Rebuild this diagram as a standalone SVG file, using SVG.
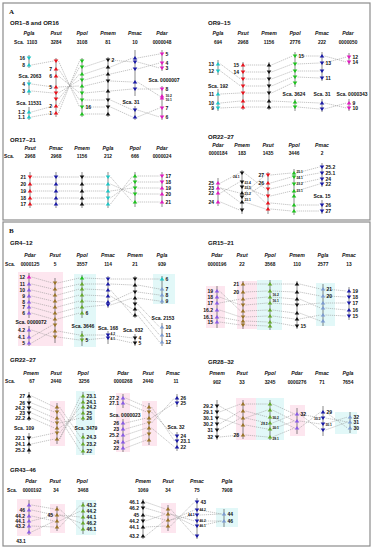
<svg xmlns="http://www.w3.org/2000/svg" width="374" height="550" viewBox="0 0 374 550">
<style>
text{font-family:"Liberation Sans",Arial,sans-serif;font-weight:bold;fill:#111}
.ti{font-size:6px}
.pl{font-family:"Liberation Serif","Times New Roman",serif;font-size:7px}
.sp{font-size:5.2px;font-style:italic;text-anchor:middle}
.sc{font-size:4.8px;text-anchor:middle}
.l{font-size:5px;text-anchor:end}
.r{font-size:5px}
.m{font-size:5px;text-anchor:middle}
.tl{font-size:3.3px;text-anchor:end}
.tr{font-size:3.3px}
.ax{stroke:#3a3a3a;stroke-width:.6}
#connectors path{fill:none;stroke:#8a8a8a;stroke-width:.5;stroke-dasharray:1.3 .8}
.cy{fill:#1ec6c6}.rd{fill:#e8141e}.gr{fill:#1fc21f}.bk{fill:#111}.bl{fill:#1a1aa6}.mg{fill:#e01cc0}
.vi{fill:#8a5ce6}.br{fill:#9a7428}.og{fill:#66a82c}.sl{fill:#7d9bd0}
.pk{fill:#fde6ef}.cs{fill:#e2f8f8}
.fr{fill:none;stroke:#8c8c8c;stroke-width:1.2}
</style>
<defs>
<path id="u" d="M-2.3 1.5H2.3L0-1.9Z"/>
<path id="d" d="M-2.3-1.5H2.3L0 1.9Z"/>
</defs>
<rect width="374" height="550" fill="#fff"/>
<rect class="fr" x="3" y="3" width="367" height="217"/>
<rect class="fr" x="3" y="222" width="367" height="324"/>

<!-- shading panel B -->
<g id="shading">
<rect class="pk" x="18" y="272" width="45" height="74"/>
<rect class="cs" x="74" y="274" width="22" height="73"/>
<rect class="cs" x="153" y="274" width="22" height="30"/>
<rect class="pk" x="206" y="286" width="19" height="42"/>
<rect class="pk" x="237" y="281" width="20" height="48"/>
<rect class="cs" x="257" y="280" width="25" height="50"/>
<rect class="cs" x="316" y="283" width="19" height="43"/>
<rect class="pk" x="50" y="401" width="15" height="45"/>
<rect class="cs" x="76" y="391" width="19" height="64"/>
<rect class="pk" x="116" y="393" width="14" height="59"/>
<rect class="pk" x="142" y="401" width="15" height="45"/>
<rect class="pk" x="236" y="398" width="20" height="42"/>
<rect class="cs" x="256" y="398" width="28" height="42"/>
<rect class="pk" x="290" y="405" width="15" height="31"/>
<rect class="cs" x="335" y="412" width="22" height="22"/>
<rect class="pk" x="17" y="499" width="24" height="37"/>
<rect class="pk" x="50" y="504" width="15" height="29"/>
<rect class="cs" x="76" y="500" width="20" height="35"/>
<rect class="pk" x="161" y="503" width="15" height="30"/>
<rect class="cs" x="216" y="508" width="22" height="19"/>
</g>

<g id="connectors">
<path d="M31.5 65L53.5 61M31.5 84L53.5 87M31.5 91L53.5 93M31.5 112L53.5 106M31.5 117L53.5 113
M58.5 61L79.5 107M58.5 69L79.5 100M58.5 76L79.5 93M58.5 87L79.5 86M58.5 93L79.5 80M58.5 99L79.5 74M58.5 106L79.5 67M58.5 113L79.5 61
M84.5 67L105.5 60M84.5 74L105.5 67M84.5 80L105.5 74M84.5 86L105.5 81M84.5 93L105.5 91M84.5 100L105.5 100M84.5 107L105.5 107M84.5 114L105.5 114
M110.5 60L132.5 62M110.5 67L132.5 58M110.5 74L132.5 69M110.5 81L132.5 82M110.5 91L132.5 89M110.5 100L132.5 110M110.5 107L132.5 117
M137.5 58L159.5 54M137.5 62L159.5 68M137.5 69L159.5 63M137.5 82L159.5 96M137.5 89L159.5 89M137.5 110L159.5 117M137.5 117L159.5 108"/>
<path d="M220.5 64L240.5 79M220.5 71L240.5 86M220.5 94L240.5 93M220.5 103L240.5 101M220.5 108L240.5 107
M245.5 65H266.5M245.5 72H266.5M245.5 79H266.5M245.5 86H266.5M245.5 93H266.5M245.5 101H266.5M245.5 107H266.5
M271.5 65L292.5 56M271.5 72L292.5 64M271.5 79L292.5 71M271.5 86L292.5 77M271.5 93L292.5 83M271.5 101L292.5 102M271.5 107L292.5 107
M297.5 56L319.5 56M297.5 64L319.5 63M297.5 71L319.5 71M297.5 77L319.5 78M297.5 102L319.5 103M297.5 107L319.5 109
M324.5 56L346.5 62M324.5 63L346.5 57M324.5 103L346.5 108M324.5 109L346.5 103"/>
<path d="M32.5 177H53.5M32.5 184H53.5M32.5 191H53.5M32.5 198H53.5M32.5 204H53.5
M58.5 177H79.5M58.5 184H79.5M58.5 191H79.5M58.5 198H79.5M58.5 204H79.5
M84.5 177H105.5M84.5 184H105.5M84.5 191H105.5M84.5 198H105.5M84.5 204H105.5
M110.5 177L132.5 202M110.5 184L132.5 194M110.5 191L132.5 188M110.5 198L132.5 182M110.5 204L132.5 176
M137.5 176H159.5M137.5 182H159.5M137.5 188H159.5M137.5 194H159.5M137.5 202H159.5"/>
<path d="M220.5 183L239.5 173M220.5 188L239.5 193M220.5 188L239.5 202M220.5 193L239.5 182M220.5 202L239.5 210
M244.5 173L265.5 189M244.5 182L265.5 203M244.5 187L265.5 196M244.5 193L265.5 175M244.5 197L265.5 183M244.5 202L265.5 209
M270.5 175L291.5 173M270.5 183L291.5 177M270.5 189L291.5 184M270.5 196L291.5 191M270.5 203L291.5 205M270.5 209L291.5 211
M296.5 173L319.5 167M296.5 177L319.5 173M296.5 184L319.5 179M296.5 191L319.5 184M296.5 205L319.5 205M296.5 211L319.5 211"/>
<path d="M31.5 277L52.5 283M31.5 284L52.5 289M31.5 290L52.5 295M31.5 296L52.5 301M31.5 302L52.5 307M31.5 307L52.5 313M31.5 313L52.5 319M31.5 330L52.5 337M31.5 337L52.5 325M31.5 343L52.5 331
M57.5 283L79.5 278M57.5 289L79.5 284M57.5 295L79.5 289M57.5 301L79.5 295M57.5 307L79.5 301M57.5 313L79.5 307M57.5 319L79.5 313M57.5 331L79.5 335M57.5 337L79.5 340
M84.5 278L105.5 279M84.5 284L105.5 284M84.5 289L105.5 290M84.5 295L105.5 296M84.5 301L105.5 302M84.5 307L105.5 305M84.5 335L105.5 335M84.5 340L105.5 338
M110.5 279L132.5 279M110.5 284L132.5 285M110.5 290L132.5 315M110.5 296L132.5 309M110.5 302L132.5 292M110.5 305L132.5 298M110.5 335L132.5 338M110.5 338L132.5 343
M137.5 279L159.5 279M137.5 285L159.5 289M137.5 292L159.5 295M137.5 298L159.5 301M137.5 304L159.5 327M137.5 309L159.5 335M137.5 315L159.5 342"/>
<path d="M219.5 291L240.5 311M219.5 297L240.5 305M219.5 303L240.5 299M219.5 310L240.5 317M219.5 317L240.5 321M219.5 322L240.5 325
M245.5 284L267.5 284M245.5 292L267.5 291M245.5 299L267.5 297M245.5 305L267.5 303M245.5 311L267.5 310M245.5 317L267.5 316M245.5 321L267.5 322M245.5 325L267.5 326
M272.5 284L294.5 284M272.5 291L294.5 292M272.5 297L294.5 299M272.5 303L294.5 305M272.5 310L294.5 313M272.5 316L294.5 319M272.5 322L294.5 326
M299.5 284L320.5 289M299.5 292L320.5 296M299.5 299L320.5 308M299.5 305L320.5 303M299.5 313L320.5 321M299.5 319L320.5 315
M325.5 289L346.5 291M325.5 296L346.5 297M325.5 303L346.5 303M325.5 308L346.5 310M325.5 315L346.5 316"/>
<path d="M31.5 396L54.5 407M31.5 403L54.5 412M31.5 408L54.5 418M31.5 413L54.5 423M31.5 418L54.5 428M31.5 438L54.5 433M31.5 444L54.5 439
M59.5 407L80.5 437M59.5 412L80.5 444M59.5 418L80.5 451M59.5 423L80.5 418M59.5 428L80.5 413M59.5 433L80.5 407M59.5 439L80.5 402M59.5 439L80.5 396
M125.5 398L146.5 407M125.5 403L146.5 412M125.5 423L146.5 418M125.5 429L146.5 423M125.5 435L146.5 428M125.5 442L146.5 434M125.5 448L146.5 440
M151.5 407L174.5 441M151.5 412L174.5 436M151.5 418L174.5 403M151.5 423L174.5 398M151.5 428L174.5 447"/>
<path d="M219.5 406L240.5 418M219.5 412L240.5 404M219.5 418L240.5 425M219.5 424L240.5 411M219.5 430L240.5 418M219.5 437L240.5 435
M245.5 404L267.5 404M245.5 411L267.5 417M245.5 418L267.5 410M245.5 418L267.5 423M245.5 425L267.5 429M245.5 435L267.5 437
M272.5 404L294.5 414M272.5 410L294.5 421M272.5 417L294.5 428M272.5 423L294.5 414M272.5 429L294.5 421M272.5 437L294.5 428
M299.5 414L320.5 418M299.5 414L320.5 430M299.5 421L320.5 424M299.5 428L320.5 412
M325.5 412L347.5 428M325.5 418L347.5 422M325.5 424L347.5 417M325.5 430L347.5 422"/>
<path d="M31.5 505L54.5 509M31.5 510L54.5 515M31.5 516L54.5 521M31.5 521L54.5 515M31.5 526L54.5 527M31.5 532L54.5 521
M59.5 509L80.5 529M59.5 515L80.5 523M59.5 521L80.5 511M59.5 527L80.5 505M59.5 515L80.5 517
M145.5 502L165.5 509M145.5 508L165.5 514M145.5 515L165.5 520M145.5 521L165.5 514M145.5 527L165.5 526M145.5 536L165.5 520
M170.5 509L194.5 536M170.5 514L194.5 526M170.5 520L194.5 510M170.5 526L194.5 502M170.5 514L194.5 521M170.5 520L194.5 515
M199.5 510L221.5 514M199.5 515L221.5 514M199.5 521L221.5 521M199.5 526L221.5 521"/>
</g>

<!-- ================= PANEL A ================= -->
<text class="pl" x="9" y="14">A</text>

<!-- OR1~8 -->
<g id="or1-8-head">
<text class="ti" x="10" y="25">OR1~8 and OR16</text>
<text class="sp" x="29" y="35">Pgla</text><text class="sp" x="56" y="35">Pxut</text><text class="sp" x="82" y="35">Ppol</text><text class="sp" x="108" y="35">Pmem</text><text class="sp" x="135" y="35">Pmac</text><text class="sp" x="162" y="35">Pdar</text>
<text class="sc" x="19" y="44">Sca.</text><text class="sc" x="32" y="44">1103</text><text class="sc" x="56" y="44">3284</text><text class="sc" x="82" y="44">3108</text><text class="sc" x="108" y="44">81</text><text class="sc" x="135" y="44">10</text><text class="sc" x="162" y="44">0000048</text>
</g>
<g id="or1-8-Pgla" class="cy">
<path class="ax" d="M29 55V68M29 80V95M29 107V120"/>
<use href="#d" x="29" y="58"/><use href="#u" x="29" y="65"/><use href="#d" x="29" y="84"/><use href="#u" x="29" y="91"/><use href="#u" x="29" y="112"/><use href="#u" x="29" y="117"/>
<text class="l" x="25" y="60">16</text><text class="l" x="25" y="67">8</text><text class="m" x="30" y="78">Sca. 2063</text><text class="l" x="25" y="86">4</text><text class="l" x="25" y="93">3</text><text class="m" x="29" y="104.5">Sca. 11531</text><text class="l" x="25" y="114">1.2</text><text class="l" x="25" y="119">1.1</text>
</g>
<g id="or1-8-Pxut" class="rd">
<path class="ax" d="M56 58V117"/>
<use href="#d" x="56" y="61"/><use href="#u" x="56" y="69"/><use href="#u" x="56" y="76"/><use href="#u" x="56" y="87"/><use href="#d" x="56" y="93"/><use href="#d" x="56" y="99"/><use href="#u" x="56" y="106"/><use href="#u" x="56" y="113"/>
<text class="l" x="52" y="71">7</text><text class="l" x="52" y="78">6</text><text class="l" x="52" y="89">5</text><text class="l" x="52" y="108">2</text><text class="l" x="52" y="115">1</text>
</g>
<g id="or1-8-Ppol" class="gr">
<path class="ax" d="M82 58V117"/>
<use href="#d" x="82" y="61"/><use href="#d" x="82" y="67"/><use href="#u" x="82" y="74"/><use href="#d" x="82" y="80"/><use href="#u" x="82" y="86"/><use href="#d" x="82" y="93"/><use href="#d" x="82" y="100"/><use href="#d" x="82" y="107"/><use href="#u" x="82" y="114"/>
<text class="r" x="85.5" y="109">16</text>
</g>
<g id="or1-8-Pmem" class="bk">
<path class="ax" d="M108 57V117"/>
<use href="#d" x="108" y="60"/><use href="#u" x="108" y="67"/><use href="#u" x="108" y="74"/><use href="#d" x="108" y="81"/><use href="#u" x="108" y="91"/><use href="#d" x="108" y="100"/><use href="#d" x="108" y="107"/><use href="#u" x="108" y="114"/>
<text class="r" x="111.5" y="62">2</text>
</g>
<g id="or1-8-Pmac" class="bl">
<path class="ax" d="M135 50V96M135 106V120"/>
<use href="#u" x="135" y="58"/><use href="#d" x="135" y="62"/><use href="#d" x="135" y="69"/><use href="#u" x="135" y="82"/><use href="#d" x="135" y="89"/><use href="#d" x="135" y="110"/><use href="#u" x="135" y="117"/>
<text class="m" x="131" y="103.5">Sca. 31</text>
</g>
<g id="or1-8-Pdar" class="mg">
<path class="ax" d="M162 50V71M162 86V120"/>
<use href="#d" x="162" y="54"/><use href="#d" x="162" y="63"/><use href="#d" x="162" y="68"/><use href="#d" x="162" y="89"/><use href="#u" x="162" y="96"/><use href="#u" x="162" y="98"/><use href="#d" x="162" y="108"/><use href="#d" x="162" y="117"/>
<text class="r" x="165.5" y="56">5</text><text class="r" x="165.5" y="65">4</text><text class="r" x="165.5" y="70">3</text><text class="m" x="164" y="82">Sca. 0000007</text><text class="r" x="165.5" y="91">8</text><text class="tr" x="165.5" y="97">10.2</text><text class="tr" x="165.5" y="100.5">10.1</text><text class="r" x="165.5" y="110">7</text><text class="r" x="165.5" y="119">6</text>
</g>

<!-- OR9~15 -->
<g id="or9-15-head">
<text class="ti" x="208" y="25">OR9~15</text>
<text class="sp" x="218" y="35">Pgla</text><text class="sp" x="243" y="35">Pxut</text><text class="sp" x="269" y="35">Pmem</text><text class="sp" x="295" y="35">Ppol</text><text class="sp" x="322" y="35">Pmac</text><text class="sp" x="348" y="35">Pdar</text>
<text class="sc" x="218" y="44">694</text><text class="sc" x="243" y="44">2968</text><text class="sc" x="269" y="44">1156</text><text class="sc" x="295" y="44">2776</text><text class="sc" x="322" y="44">222</text><text class="sc" x="348" y="44">0000050</text>
</g>
<g id="or9-15-Pgla" class="cy">
<path class="ax" d="M218 60V75M218 89V111"/>
<use href="#u" x="218" y="64"/><use href="#d" x="218" y="71"/><use href="#u" x="218" y="94"/><use href="#u" x="218" y="103"/><use href="#d" x="218" y="108"/>
<text class="l" x="214" y="66">13</text><text class="l" x="214" y="73">12</text><text class="m" x="218" y="87.5">Sca. 192</text><text class="l" x="214" y="96">11</text><text class="l" x="214" y="105">10</text><text class="l" x="214" y="110">9</text>
</g>
<g id="or9-15-Pxut" class="rd">
<path class="ax" d="M243 62V110"/>
<use href="#u" x="243" y="65"/><use href="#d" x="243" y="72"/><use href="#d" x="243" y="79"/><use href="#d" x="243" y="86"/><use href="#d" x="243" y="93"/><use href="#u" x="243" y="101"/><use href="#u" x="243" y="107"/>
<text class="l" x="239" y="67">15</text><text class="l" x="239" y="74">14</text>
</g>
<g id="or9-15-Pmem" class="bk">
<path class="ax" d="M269 62V110"/>
<use href="#u" x="269" y="65"/><use href="#d" x="269" y="72"/><use href="#d" x="269" y="79"/><use href="#d" x="269" y="86"/><use href="#d" x="269" y="93"/><use href="#u" x="269" y="101"/><use href="#u" x="269" y="107"/>
</g>
<g id="or9-15-Ppol" class="gr">
<path class="ax" d="M295 52V87M295 99V111"/>
<use href="#d" x="295" y="56"/><use href="#d" x="295" y="64"/><use href="#d" x="295" y="71"/><use href="#d" x="295" y="77"/><use href="#d" x="295" y="83"/><use href="#u" x="295" y="102"/><use href="#d" x="295" y="107"/>
<text class="r" x="298.5" y="58">15</text><text class="m" x="294" y="96">Sca. 3624</text>
</g>
<g id="or9-15-Pmac" class="bl">
<path class="ax" d="M322 52V81M322 99V112"/>
<use href="#u" x="322" y="56"/><use href="#d" x="322" y="63"/><use href="#d" x="322" y="71"/><use href="#d" x="322" y="78"/><use href="#u" x="322" y="103"/><use href="#d" x="322" y="109"/>
<text class="r" x="325.5" y="65">13</text><text class="r" x="325.5" y="80">11</text><text class="m" x="322" y="96">Sca. 31</text>
</g>
<g id="or9-15-Pdar" class="mg">
<path class="ax" d="M349 53V65M349 99V111"/>
<use href="#d" x="349" y="57"/><use href="#d" x="349" y="62"/><use href="#u" x="349" y="103"/><use href="#d" x="349" y="108"/>
<text class="r" x="352.5" y="59">12</text><text class="r" x="352.5" y="64">14</text><text class="m" x="352" y="96">Sca. 0000343</text><text class="r" x="352.5" y="105">9</text><text class="r" x="352.5" y="110">10</text>
</g>

<!-- OR17~21 -->
<g id="or17-21-head">
<text class="ti" x="10" y="142">OR17~21</text>
<text class="sp" x="30" y="150">Pxut</text><text class="sp" x="56" y="150">Pmac</text><text class="sp" x="82" y="150">Pmem</text><text class="sp" x="108" y="150">Pgla</text><text class="sp" x="135" y="150">Ppol</text><text class="sp" x="162" y="150">Pdar</text>
<text class="sc" x="9" y="157.5">Sca.</text><text class="sc" x="30" y="157.5">2968</text><text class="sc" x="56" y="157.5">2968</text><text class="sc" x="82" y="157.5">1156</text><text class="sc" x="108" y="157.5">212</text><text class="sc" x="135" y="157.5">666</text><text class="sc" x="162" y="157.5">0000024</text>
</g>
<g id="or17-21-Pxut" class="rd">
<path class="ax" d="M30 172V208"/>
<use href="#d" x="30" y="177"/><use href="#u" x="30" y="184"/><use href="#u" x="30" y="191"/><use href="#u" x="30" y="198"/><use href="#u" x="30" y="204"/>
<text class="l" x="26" y="179">21</text><text class="l" x="26" y="186">20</text><text class="l" x="26" y="193">19</text><text class="l" x="26" y="200">18</text><text class="l" x="26" y="206">17</text>
</g>
<g id="or17-21-Pmac" class="bl">
<path class="ax" d="M56 172V208"/>
<use href="#d" x="56" y="177"/><use href="#u" x="56" y="184"/><use href="#u" x="56" y="191"/><use href="#u" x="56" y="198"/><use href="#u" x="56" y="204"/>
</g>
<g id="or17-21-Pmem" class="bk">
<path class="ax" d="M82 172V208"/>
<use href="#d" x="82" y="177"/><use href="#u" x="82" y="184"/><use href="#u" x="82" y="191"/><use href="#u" x="82" y="198"/><use href="#u" x="82" y="204"/>
</g>
<g id="or17-21-Pgla" class="cy">
<path class="ax" d="M108 172V208"/>
<use href="#d" x="108" y="177"/><use href="#u" x="108" y="184"/><use href="#u" x="108" y="191"/><use href="#d" x="108" y="198"/><use href="#u" x="108" y="204"/>
</g>
<g id="or17-21-Ppol" class="gr">
<path class="ax" d="M135 172V207"/>
<use href="#u" x="135" y="176"/><use href="#d" x="135" y="182"/><use href="#d" x="135" y="188"/><use href="#d" x="135" y="194"/><use href="#u" x="135" y="202"/>
</g>
<g id="or17-21-Pdar" class="mg">
<path class="ax" d="M162 172V207"/>
<use href="#d" x="162" y="176"/><use href="#d" x="162" y="182"/><use href="#u" x="162" y="188"/><use href="#u" x="162" y="194"/><use href="#u" x="162" y="202"/>
<text class="r" x="165.5" y="178">17</text><text class="r" x="165.5" y="184">18</text><text class="r" x="165.5" y="190">19</text><text class="r" x="165.5" y="196">20</text><text class="r" x="165.5" y="204">21</text>
</g>

<!-- OR22~27 -->
<g id="or22-27-head">
<text class="ti" x="208" y="139">OR22~27</text>
<text class="sp" x="218" y="147">Pdar</text><text class="sp" x="242" y="147">Pmem</text><text class="sp" x="268" y="147">Pxut</text><text class="sp" x="294" y="147">Ppol</text><text class="sp" x="322" y="147">Pmac</text>
<text class="sc" x="218" y="155">0000184</text><text class="sc" x="242" y="155">183</text><text class="sc" x="268" y="155">1435</text><text class="sc" x="294" y="155">3446</text><text class="sc" x="322" y="155">2</text>
</g>
<g id="or22-27-Pdar" class="mg">
<path class="ax" d="M218 178V206"/>
<use href="#u" x="218" y="183"/><use href="#u" x="218" y="188"/><use href="#u" x="218" y="193"/><use href="#u" x="218" y="202"/>
<text class="l" x="214" y="185">25</text><text class="l" x="214" y="190">23</text><text class="l" x="214" y="195">22</text><text class="l" x="214" y="204">24</text>
</g>
<g id="or22-27-Pmem" class="bk">
<path class="ax" d="M242 170V214"/>
<use href="#d" x="242" y="173"/><use href="#d" x="242" y="182"/><use href="#d" x="242" y="187"/><use href="#u" x="242" y="193"/><use href="#d" x="242" y="197"/><use href="#u" x="242" y="202"/><use href="#d" x="242" y="210"/>
<text class="tl" x="239.5" y="178">24.1</text><text class="tr" x="244.5" y="184">23.4</text><text class="tr" x="244.5" y="189">23.5</text><text class="tr" x="244.5" y="195">23.2</text><text class="tr" x="244.5" y="201">23.1</text>
</g>
<g id="or22-27-Pxut" class="rd">
<path class="ax" d="M268 172V214"/>
<use href="#d" x="268" y="175"/><use href="#u" x="268" y="183"/><use href="#d" x="268" y="189"/><use href="#d" x="268" y="196"/><use href="#u" x="268" y="203"/><use href="#u" x="268" y="209"/>
<text class="l" x="264" y="177">27</text><text class="l" x="264" y="185">26</text>
</g>
<g id="or22-27-Ppol" class="gr">
<path class="ax" d="M294 169V215"/>
<use href="#u" x="294" y="173"/><use href="#d" x="294" y="177"/><use href="#d" x="294" y="184"/><use href="#u" x="294" y="191"/><use href="#u" x="294" y="196"/><use href="#u" x="294" y="205"/><use href="#u" x="294" y="211"/>
<text class="tr" x="296.5" y="172.5">25.1</text><text class="tr" x="296.5" y="178.5">24.1</text><text class="tr" x="296.5" y="185">23.2</text><text class="tr" x="296.5" y="192">23.1</text>
</g>
<g id="or22-27-Pmac" class="bl">
<path class="ax" d="M322 163V187M322 200V214"/>
<use href="#d" x="322" y="167"/><use href="#d" x="322" y="173"/><use href="#d" x="322" y="179"/><use href="#d" x="322" y="184"/><use href="#d" x="322" y="205"/><use href="#d" x="322" y="211"/>
<text class="r" x="325.5" y="169">25.2</text><text class="r" x="325.5" y="175">25.1</text><text class="r" x="325.5" y="181">24</text><text class="r" x="325.5" y="186">22</text><text class="m" x="322" y="198">Sca. 15</text><text class="r" x="325.5" y="207">26</text><text class="r" x="325.5" y="213">27</text>
</g>

<!-- ================= PANEL B ================= -->
<text class="pl" x="9" y="233">B</text>

<!-- GR4~12 -->
<g id="gr4-12-head">
<text class="ti" x="10" y="245">GR4~12</text>
<text class="sp" x="30" y="257">Pdar</text><text class="sp" x="55" y="257">Pxut</text><text class="sp" x="82" y="257">Ppol</text><text class="sp" x="108" y="257">Pmac</text><text class="sp" x="135" y="257">Pmem</text><text class="sp" x="162" y="257">Pgla</text>
<text class="sc" x="10" y="266">Sca.</text><text class="sc" x="30" y="266">0000125</text><text class="sc" x="55" y="266">5</text><text class="sc" x="82" y="266">3557</text><text class="sc" x="108" y="266">114</text><text class="sc" x="135" y="266">21</text><text class="sc" x="162" y="266">939</text>
</g>
<g id="gr4-12-Pdar" class="vi">
<path class="ax" d="M29 273V318M29 326V346"/>
<use href="#u" x="29" y="277" class="mg"/><use href="#u" x="29" y="284"/><use href="#u" x="29" y="290"/><use href="#u" x="29" y="296"/><use href="#u" x="29" y="302"/><use href="#u" x="29" y="307"/><use href="#u" x="29" y="313"/><use href="#u" x="29" y="330"/><use href="#u" x="29" y="337"/><use href="#u" x="29" y="343"/>
<text class="l" x="25" y="279">12</text><text class="l" x="25" y="286">11</text><text class="l" x="25" y="292">10</text><text class="l" x="25" y="298">9</text><text class="l" x="25" y="304">8</text><text class="l" x="25" y="309">7</text><text class="l" x="25" y="315">6</text><text class="m" x="31" y="323.5">Sca. 0000072</text><text class="l" x="25" y="332">4.2</text><text class="l" x="25" y="339">4.1</text><text class="l" x="25" y="345">5</text>
</g>
<g id="gr4-12-Pxut" class="br">
<path class="ax" d="M55 278V343"/>
<use href="#d" x="55" y="283"/><use href="#u" x="55" y="289"/><use href="#u" x="55" y="295"/><use href="#u" x="55" y="301"/><use href="#u" x="55" y="307"/><use href="#u" x="55" y="313"/><use href="#u" x="55" y="319"/><use href="#d" x="55" y="325"/><use href="#u" x="55" y="331"/><use href="#d" x="55" y="337"/>
</g>
<g id="gr4-12-Ppol" class="og">
<path class="ax" d="M82 275V318M82 331V346"/>
<use href="#u" x="82" y="278" class="gr"/><use href="#u" x="82" y="284"/><use href="#u" x="82" y="289"/><use href="#u" x="82" y="295"/><use href="#u" x="82" y="301"/><use href="#u" x="82" y="307"/><use href="#u" x="82" y="313"/><use href="#u" x="82" y="335"/><use href="#d" x="82" y="340"/>
<text class="r" x="85.5" y="315">6</text><text class="m" x="83" y="328">Sca. 3646</text><text class="r" x="85.5" y="342">5</text>
</g>
<g id="gr4-12-Pmac" class="bl">
<path class="ax" d="M108 276V308M108 331V344"/>
<use href="#d" x="108" y="279"/><use href="#u" x="108" y="284"/><use href="#u" x="108" y="290"/><use href="#u" x="108" y="296"/><use href="#u" x="108" y="302"/><use href="#d" x="108" y="305"/><use href="#d" x="108" y="335"/><use href="#d" x="108" y="338"/>
<text class="m" x="108" y="330">Sca. 168</text><text class="tr" x="110.5" y="334.5">4.2</text><text class="tr" x="110.5" y="340">4.1</text>
</g>
<g id="gr4-12-Pmem" class="bk">
<path class="ax" d="M135 276V318M135 334V346"/>
<use href="#d" x="135" y="279"/><use href="#u" x="135" y="285"/><use href="#d" x="135" y="292"/><use href="#u" x="135" y="298"/><use href="#d" x="135" y="304"/><use href="#u" x="135" y="309"/><use href="#u" x="135" y="315"/><use href="#d" x="135" y="338"/><use href="#d" x="135" y="343"/>
<text class="m" x="133" y="331.5">Sca. 632</text><text class="r" x="138.5" y="340">4</text><text class="r" x="138.5" y="345">5</text>
</g>
<g id="gr4-12-Pgla" class="sl">
<path class="ax" d="M162 276V304M162 323V346"/>
<use href="#u" x="162" y="279" class="cy"/><use href="#u" x="162" y="289"/><use href="#u" x="162" y="295"/><use href="#u" x="162" y="301"/><use href="#u" x="162" y="327"/><use href="#u" x="162" y="335"/><use href="#u" x="162" y="342"/>
<text class="r" x="165.5" y="281">6</text><text class="r" x="165.5" y="291">7</text><text class="r" x="165.5" y="297">8</text><text class="r" x="165.5" y="303">9</text><text class="m" x="163" y="320">Sca. 2153</text><text class="r" x="165.5" y="329">10</text><text class="r" x="165.5" y="337">11</text><text class="r" x="165.5" y="344">12</text>
</g>

<!-- GR15~21 -->
<g id="gr15-21-head">
<text class="ti" x="208" y="245">GR15~21</text>
<text class="sp" x="217" y="257">Pdar</text><text class="sp" x="242" y="257">Pxut</text><text class="sp" x="270" y="257">Ppol</text><text class="sp" x="297" y="257">Pmem</text><text class="sp" x="323" y="257">Pgla</text><text class="sp" x="349" y="257">Pmac</text>
<text class="sc" x="217" y="266">0000196</text><text class="sc" x="242" y="266">22</text><text class="sc" x="270" y="266">3568</text><text class="sc" x="297" y="266">110</text><text class="sc" x="323" y="266">2577</text><text class="sc" x="349" y="266">13</text>
</g>
<g id="gr15-21-Pdar" class="vi">
<path class="ax" d="M217 286V328"/>
<use href="#u" x="217" y="291"/><use href="#u" x="217" y="297"/><use href="#u" x="217" y="303"/><use href="#u" x="217" y="310"/><use href="#u" x="217" y="317"/><use href="#u" x="217" y="322"/>
<text class="l" x="213" y="293">19</text><text class="l" x="213" y="299">18</text><text class="l" x="213" y="305">17</text><text class="l" x="213" y="312">16.2</text><text class="l" x="213" y="319">16.1</text><text class="l" x="213" y="324">15</text>
</g>
<g id="gr15-21-Pxut" class="br">
<path class="ax" d="M243 281V329"/>
<use href="#u" x="243" y="284"/><use href="#u" x="243" y="292"/><use href="#u" x="243" y="299"/><use href="#d" x="243" y="305"/><use href="#u" x="243" y="311"/><use href="#d" x="243" y="317"/><use href="#u" x="243" y="321"/><use href="#d" x="243" y="325"/>
<text class="l" x="239" y="286">21</text><text class="l" x="239" y="294">20</text>
</g>
<g id="gr15-21-Ppol" class="og">
<path class="ax" d="M270 280V330"/>
<use href="#u" x="270" y="284"/><use href="#u" x="270" y="291"/><use href="#u" x="270" y="297"/><use href="#u" x="270" y="303"/><use href="#u" x="270" y="310"/><use href="#u" x="270" y="316"/><use href="#u" x="270" y="322"/><use href="#u" x="270" y="326"/>
<text class="tr" x="272.5" y="296">16.2</text><text class="tr" x="272.5" y="302">16.1</text>
</g>
<g id="gr15-21-Pmem" class="bk">
<path class="ax" d="M297 281V329"/>
<use href="#u" x="297" y="284"/><use href="#u" x="297" y="292"/><use href="#u" x="297" y="299"/><use href="#d" x="297" y="305"/><use href="#u" x="297" y="313"/><use href="#u" x="297" y="319"/><use href="#d" x="297" y="326"/>
<text class="r" x="300.5" y="328">15</text>
</g>
<g id="gr15-21-Pgla" class="sl">
<path class="ax" d="M323 284V326"/>
<use href="#u" x="323" y="289"/><use href="#u" x="323" y="296"/><use href="#u" x="323" y="303"/><use href="#u" x="323" y="308"/><use href="#u" x="323" y="315"/><use href="#u" x="323" y="321"/>
<text class="r" x="326.5" y="291">21</text><text class="r" x="326.5" y="298">20</text>
</g>
<g id="gr15-21-Pmac" class="bl">
<path class="ax" d="M349 287V320"/>
<use href="#u" x="349" y="291"/><use href="#d" x="349" y="297"/><use href="#d" x="349" y="303"/><use href="#u" x="349" y="310"/><use href="#d" x="349" y="316"/>
<text class="r" x="352.5" y="293">19</text><text class="r" x="352.5" y="299">18</text><text class="r" x="352.5" y="305">17</text><text class="r" x="352.5" y="312">16</text><text class="r" x="352.5" y="318">15</text>
</g>

<!-- GR22~27 -->
<g id="gr22-27-head">
<text class="ti" x="10" y="362">GR22~27</text>
<text class="sp" x="31" y="375">Pmem</text><text class="sp" x="56" y="375">Pxut</text><text class="sp" x="83" y="375">Ppol</text><text class="sp" x="123" y="375">Pdar</text><text class="sp" x="148" y="375">Pxut</text><text class="sp" x="173" y="375">Pmac</text>
<text class="sc" x="10" y="383">Sca.</text><text class="sc" x="32" y="383">67</text><text class="sc" x="56" y="383">2440</text><text class="sc" x="84" y="383">3256</text><text class="sc" x="123" y="383">0000268</text><text class="sc" x="148" y="383">2440</text><text class="sc" x="176" y="383">11</text>
</g>
<g id="gr22-27-Pmem" class="bk">
<path class="ax" d="M29 392V421M29 433V454"/>
<use href="#u" x="29" y="396"/><use href="#d" x="29" y="403"/><use href="#d" x="29" y="408"/><use href="#d" x="29" y="413"/><use href="#u" x="29" y="418"/><use href="#d" x="29" y="438"/><use href="#u" x="29" y="444"/><use href="#u" x="29" y="450"/>
<text class="l" x="25" y="398">27</text><text class="l" x="25" y="405">26</text><text class="l" x="25" y="410">24.2</text><text class="l" x="25" y="415">23</text><text class="l" x="25" y="420">22.2</text><text class="m" x="24" y="430">Sca. 109</text><text class="l" x="25" y="440">22.1</text><text class="l" x="25" y="446">24.1</text><text class="l" x="25" y="452">25.2</text>
</g>
<g id="gr22-27-Pxut" class="br">
<path class="ax" d="M57 403V444"/>
<use href="#u" x="57" y="407"/><use href="#d" x="57" y="412"/><use href="#u" x="57" y="418"/><use href="#d" x="57" y="423"/><use href="#u" x="57" y="428"/><use href="#d" x="57" y="433"/><use href="#u" x="57" y="439"/>
</g>
<g id="gr22-27-Ppol" class="og">
<path class="ax" d="M83 392V421M83 433V455"/>
<use href="#u" x="83" y="396"/><use href="#u" x="83" y="402"/><use href="#u" x="83" y="407"/><use href="#u" x="83" y="413"/><use href="#u" x="83" y="418"/><use href="#u" x="83" y="437"/><use href="#u" x="83" y="444"/><use href="#u" x="83" y="451"/>
<text class="r" x="86.5" y="398">23.1</text><text class="r" x="86.5" y="404">24.1</text><text class="r" x="86.5" y="409">24.2</text><text class="r" x="86.5" y="415">25</text><text class="r" x="86.5" y="420">26</text><text class="m" x="86" y="430">Sca. 3479</text><text class="r" x="86.5" y="439">24.3</text><text class="r" x="86.5" y="446">23.2</text><text class="r" x="86.5" y="453">22</text>
</g>
<g id="gr22-27-Pdar" class="vi">
<path class="ax" d="M123 394V408M123 419V452"/>
<use href="#u" x="123" y="398"/><use href="#u" x="123" y="403"/><use href="#u" x="123" y="423"/><use href="#u" x="123" y="429"/><use href="#u" x="123" y="435"/><use href="#u" x="123" y="442"/><use href="#u" x="123" y="448"/>
<text class="l" x="119" y="400">27.2</text><text class="l" x="119" y="405">27.1</text><text class="m" x="125" y="417">Sca. 0000023</text><text class="l" x="119" y="425">26</text><text class="l" x="119" y="431">23</text><text class="l" x="119" y="437">25.2</text><text class="l" x="119" y="444">24</text><text class="l" x="119" y="450">22</text>
</g>
<g id="gr22-27-Pxut2" class="br">
<path class="ax" d="M149 403V445"/>
<use href="#u" x="149" y="407"/><use href="#d" x="149" y="412"/><use href="#u" x="149" y="418"/><use href="#d" x="149" y="423"/><use href="#u" x="149" y="428"/><use href="#d" x="149" y="434"/><use href="#u" x="149" y="440"/>
</g>
<g id="gr22-27-Pmac" class="bl">
<path class="ax" d="M177 394V407M177 432V451"/>
<use href="#u" x="177" y="398"/><use href="#d" x="177" y="403"/><use href="#d" x="177" y="436"/><use href="#d" x="177" y="441"/><use href="#u" x="177" y="447"/>
<text class="r" x="180.5" y="400">26</text><text class="r" x="180.5" y="405">25</text><text class="m" x="176" y="428.5">Sca. 32</text><text class="r" x="180.5" y="438">24</text><text class="r" x="180.5" y="443">23.1</text><text class="r" x="180.5" y="449">22</text>
</g>

<!-- GR28~32 -->
<g id="gr28-32-head">
<text class="ti" x="208" y="364">GR28~32</text>
<text class="sp" x="217" y="375">Pmem</text><text class="sp" x="242" y="375">Pxut</text><text class="sp" x="270" y="375">Ppol</text><text class="sp" x="297" y="375">Pdar</text><text class="sp" x="322" y="375">Pmac</text><text class="sp" x="348" y="375">Pgla</text>
<text class="sc" x="217" y="383.5">902</text><text class="sc" x="242" y="383.5">33</text><text class="sc" x="270" y="383.5">3245</text><text class="sc" x="297" y="383.5">0000276</text><text class="sc" x="322" y="383.5">71</text><text class="sc" x="348" y="383.5">7654</text>
</g>
<g id="gr28-32-Pmem" class="bk">
<path class="ax" d="M217 400V440"/>
<use href="#d" x="217" y="406"/><use href="#d" x="217" y="412"/><use href="#d" x="217" y="418"/><use href="#d" x="217" y="424"/><use href="#d" x="217" y="430"/><use href="#d" x="217" y="437"/>
<text class="l" x="213" y="408">29.2</text><text class="l" x="213" y="414">29.1</text><text class="l" x="213" y="420">30.1</text><text class="l" x="213" y="426">30.2</text><text class="l" x="213" y="432">31</text><text class="l" x="213" y="439">32</text>
</g>
<g id="gr28-32-Pxut" class="br">
<path class="ax" d="M243 400V439"/>
<use href="#u" x="243" y="404"/><use href="#u" x="243" y="411"/><use href="#u" x="243" y="418"/><use href="#u" x="243" y="425"/><use href="#u" x="243" y="435"/>
<text class="l" x="239" y="437">28</text>
</g>
<g id="gr28-32-Ppol" class="og">
<path class="ax" d="M270 400V440"/>
<use href="#u" x="270" y="404"/><use href="#u" x="270" y="410"/><use href="#u" x="270" y="417"/><use href="#u" x="270" y="423"/><use href="#u" x="270" y="429"/><use href="#u" x="270" y="437"/>
<text class="tr" x="272.5" y="419">30.2</text><text class="tl" x="267.5" y="425">29.2</text><text class="tr" x="272.5" y="429">30.1</text><text class="tr" x="272.5" y="440">29.1</text>
</g>
<g id="gr28-32-Pdar" class="vi">
<path class="ax" d="M297 408V434"/>
<use href="#u" x="297" y="414"/><use href="#u" x="297" y="421"/><use href="#u" x="297" y="428"/>
<text class="r" x="300.5" y="416">32</text>
</g>
<g id="gr28-32-Pmac" class="bl">
<path class="ax" d="M323 406V436"/>
<use href="#u" x="323" y="412"/><use href="#d" x="323" y="418"/><use href="#d" x="323" y="424"/><use href="#d" x="323" y="430"/>
<text class="r" x="326.5" y="414">29</text><text class="tl" x="320.5" y="420">30.2</text><text class="tr" x="325.5" y="426">30.1</text>
</g>
<g id="gr28-32-Pgla" class="sl">
<path class="ax" d="M350 412V433"/>
<use href="#u" x="350" y="417"/><use href="#u" x="350" y="422"/><use href="#u" x="350" y="428"/>
<text class="r" x="353.5" y="419">32</text><text class="r" x="353.5" y="424">31</text><text class="r" x="353.5" y="430">30</text>
</g>

<!-- GR43~46 -->
<g id="gr43-46-head">
<text class="ti" x="10" y="472">GR43~46</text>
<text class="sp" x="31" y="483">Pdar</text><text class="sp" x="55" y="483">Pxut</text><text class="sp" x="82" y="483">Ppol</text><text class="sp" x="143" y="483">Pmem</text><text class="sp" x="168" y="483">Pxut</text><text class="sp" x="197" y="483">Pmac</text><text class="sp" x="227" y="483">Pgla</text>
<text class="sc" x="12" y="492">Sca.</text><text class="sc" x="32" y="492">0000192</text><text class="sc" x="56" y="492">34</text><text class="sc" x="83" y="492">3468</text><text class="sc" x="143" y="492">1069</text><text class="sc" x="168" y="492">34</text><text class="sc" x="197" y="492">75</text><text class="sc" x="227" y="492">7908</text>
</g>
<g id="gr43-46-Pdar" class="vi">
<path class="ax" d="M29 500V535"/>
<use href="#u" x="29" y="505"/><use href="#u" x="29" y="510"/><use href="#u" x="29" y="516"/><use href="#u" x="29" y="521"/><use href="#u" x="29" y="526"/><use href="#u" x="29" y="532"/>
<text class="l" x="25" y="512">46</text><text class="l" x="25" y="518">44.2</text><text class="l" x="25" y="523">44.1</text><text class="l" x="25" y="528">43.2</text><text class="m" x="21" y="543">43.1</text>
</g>
<g id="gr43-46-Pxut" class="br">
<path class="ax" d="M57 506V531"/>
<use href="#u" x="57" y="509"/><use href="#u" x="57" y="515"/><use href="#u" x="57" y="521"/><use href="#u" x="57" y="527"/>
<text class="l" x="53" y="517">45</text>
</g>
<g id="gr43-46-Ppol" class="og">
<path class="ax" d="M83 502V534"/>
<use href="#u" x="83" y="505"/><use href="#u" x="83" y="511"/><use href="#u" x="83" y="517"/><use href="#u" x="83" y="523"/><use href="#u" x="83" y="529"/>
<text class="r" x="86.5" y="507">43.2</text><text class="r" x="86.5" y="513">44.2</text><text class="r" x="86.5" y="519">44.1</text><text class="r" x="86.5" y="525">46.2</text><text class="r" x="86.5" y="531">46.1</text>
</g>
<g id="gr43-46-Pmem" class="bk">
<path class="ax" d="M143 499V539"/>
<use href="#u" x="143" y="502"/><use href="#d" x="143" y="508"/><use href="#u" x="143" y="515"/><use href="#d" x="143" y="521"/><use href="#u" x="143" y="527"/><use href="#u" x="143" y="536"/>
<text class="l" x="139" y="504">46.1</text><text class="l" x="139" y="510">46.2</text><text class="l" x="139" y="517">45</text><text class="l" x="139" y="523">44.2</text><text class="l" x="139" y="529">44.1</text><text class="l" x="139" y="538">43.2</text>
</g>
<g id="gr43-46-Pxut2" class="br">
<path class="ax" d="M168 505V531"/>
<use href="#u" x="168" y="509"/><use href="#u" x="168" y="514"/><use href="#u" x="168" y="520"/><use href="#u" x="168" y="526"/>
</g>
<g id="gr43-46-Pmac" class="bl">
<path class="ax" d="M197 498V539"/>
<use href="#d" x="197" y="502"/><use href="#d" x="197" y="510"/><use href="#d" x="197" y="515"/><use href="#d" x="197" y="521"/><use href="#d" x="197" y="526"/><use href="#d" x="197" y="536"/>
<text class="r" x="200.5" y="504">43</text><text class="tr" x="199.5" y="511">44.2</text><text class="tl" x="194.5" y="516">44.1</text><text class="tr" x="199.5" y="522">46.2</text><text class="tr" x="199.5" y="527">46.1</text>
</g>
<g id="gr43-46-Pgla" class="sl">
<path class="ax" d="M224 509V527"/>
<use href="#u" x="224" y="514"/><use href="#u" x="224" y="521"/>
<text class="r" x="227.5" y="516">44</text><text class="r" x="227.5" y="523">46</text>
</g>
</svg>
